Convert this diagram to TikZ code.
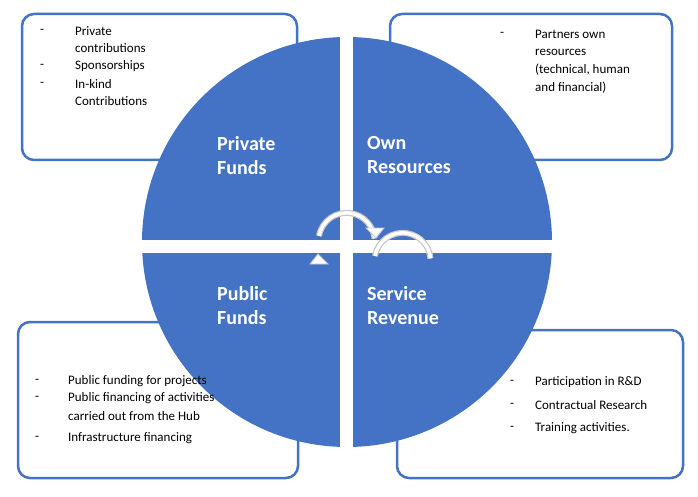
\documentclass[tikz,border=0pt]{standalone}
\usepackage{fontspec}
\setmainfont{Carlito}
\begin{document}
\begin{tikzpicture}[x=1pt,y=-1pt,
  box/.style={draw=blue1,line width=2.5pt,rounded corners=12pt,fill=white},
  lbl/.style={text=white,font=\bfseries\fontsize{20}{24}\selectfont,align=left,anchor=north west,inner sep=0},
  itm/.style={font=\fontsize{13}{16}\selectfont,anchor=west,inner sep=0},
  arr/.style={draw=gray!45,line width=6pt},
  arrin/.style={draw=white,line width=3.5pt}]
\definecolor{blue1}{HTML}{4472C4}
\useasboundingbox (0,0) rectangle (698,497);
\draw[box] (22,14) rectangle (297,160);
\draw[box] (390,14) rectangle (672,160);
\draw[box] (18,322) rectangle (298,478);
\draw[box] (397,330) rectangle (683,478);
\fill[blue1] (347,242) circle (205);
\fill[white] (340,30) rectangle (353,455);
\fill[white] (135,240) rectangle (560,253);
% cycle arrows
\draw[arr] (319,236) arc (190:355:28);
\draw[arrin] (319,236) arc (190:355:28);
\draw[arr] (375,256) arc (10:175:-28);
\draw[arrin] (375,256) arc (10:175:-28);
\fill[white,draw=gray!45,line width=0.8pt] (366,228)--(384,228)--(376,238)--cycle;
\fill[white,draw=gray!45,line width=0.8pt] (328,264)--(310,264)--(318,254)--cycle;
\node[lbl] (pf) at (217,136) {Private\\Funds};
\node[lbl] (or) at (367,136) {Own\\Resources};
\node[lbl] (pu) at (217,286) {Public\\Funds};
\node[lbl] (sr) at (367,286) {Service\\Revenue};
% top-left
\node[itm] (a1) at (40,31) {-};\node[itm] (a2) at (75,31) {Private};
\node[itm] (a3) at (75,48) {contributions};
\node[itm] (a4) at (40,66) {-};\node[itm] (a5) at (75,66) {Sponsorships};
\node[itm] (a6) at (40,84) {-};\node[itm] (a7) at (75,84) {In-kind};
\node[itm] (a8) at (75,101) {Contributions};
% top-right
\node[itm] (b1) at (500,34) {-};\node[itm] (b2) at (535,34) {Partners own};
\node[itm] (b3) at (535,52) {resources};
\node[itm] (b4) at (535,70) {(technical, human};
\node[itm] (b5) at (535,88) {and financial)};
% bottom-left
\node[itm] (c1) at (35,381) {-};\node[itm] (c2) at (68,381) {Public funding for projects};
\node[itm] (c3) at (35,398) {-};\node[itm] (c4) at (68,398) {Public financing of activities};
\node[itm] (c5) at (68,416) {carried out from the Hub};
\node[itm] (c6) at (35,438) {-};\node[itm] (c7) at (68,438) {Infrastructure financing};
% bottom-right
\node[itm] (d1) at (510,382) {-};\node[itm] (d2) at (535,382) {Participation in R\&D};
\node[itm] (d3) at (510,405) {-};\node[itm] (d4) at (535,405) {Contractual Research};
\node[itm] (d5) at (510,428) {-};\node[itm] (d6) at (535,428) {Training activities.};
\end{tikzpicture}
\end{document}
